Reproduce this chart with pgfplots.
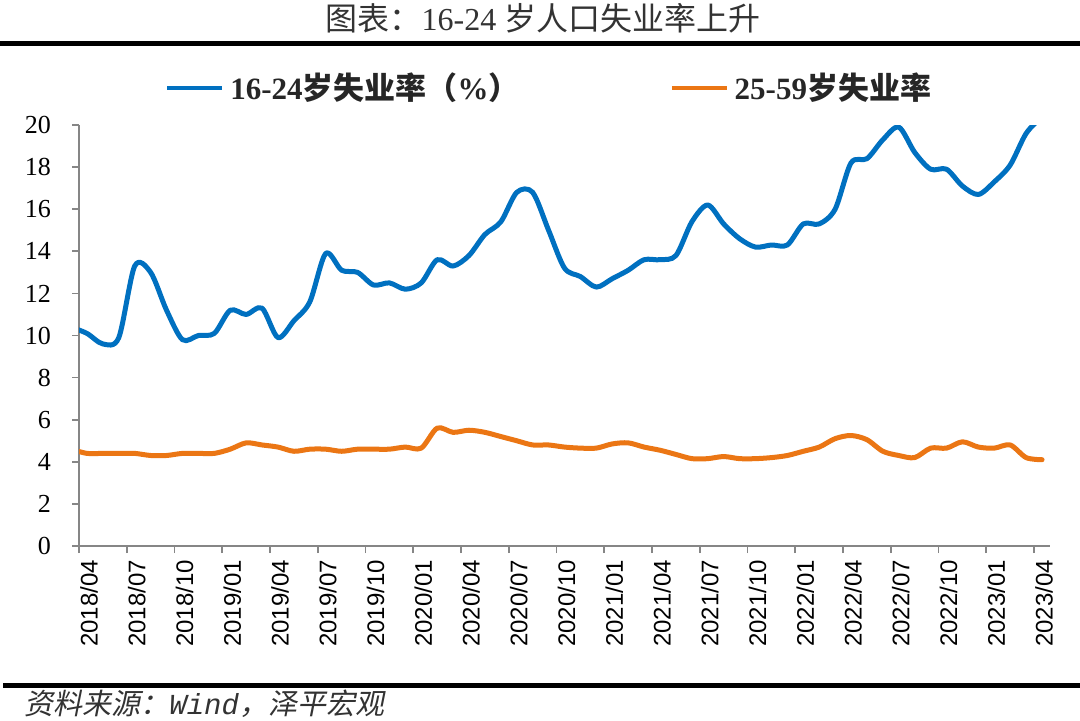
\documentclass[border=0pt]{standalone}
\usepackage{fontspec}
\setmainfont{Liberation Serif}
\setsansfont{Liberation Sans}
\setmonofont{Liberation Mono}
\newfontfamily\cjk{Noto Sans CJK SC}
\newfontfamily\cjkit{Noto Sans CJK SC}[FakeSlant=0.2]
\usepackage{pgfplots}
\pgfplotsset{compat=1.18}
\definecolor{bl}{RGB}{0,112,192}
\definecolor{orn}{RGB}{235,118,20}
\definecolor{axg}{RGB}{134,134,134}
\begin{document}
\begin{tikzpicture}
\path[use as bounding box] (0,0) rectangle (540pt,360pt);
\node[font=\fontsize{16}{18}\selectfont, text=black!80, inner sep=0pt] at (271.5pt,351pt) {{\cjk 图表：}16-24 {\cjk 岁人口失业率上升}};
\draw[line width=2.5pt] (0,338.25pt) -- (540pt,338.25pt);
\draw[line width=2.5pt] (1.5pt,17.5pt) -- (540pt,17.5pt);
\node[anchor=west, inner sep=0pt, font=\fontsize{14.5}{16}\selectfont, text=black!80] at (12pt,8pt) {{\cjkit 资料来源：}{\ttfamily\itshape Wind}{\cjkit ，泽平宏观}};
\begin{axis}[
  at={(39.5pt,87pt)}, anchor=south west,
  scale only axis, width=485.5pt, height=210.5pt,
  xmin=0, xmax=61, ymin=0, ymax=20,
  axis lines*=left,
  axis line style={axg, line width=0.85pt},
  tick align=outside, major tick length=3.5pt,
  tick style={axg, line width=0.85pt},
  ytick={0,2,...,20},
  /pgf/number format/assume math mode=true,
  yticklabel style={font=\fontsize{13}{14}\selectfont, text=black, xshift=-7pt},
  xtick={0.5,3.5,...,60.5},
  xticklabels={2018/04,2018/07,2018/10,2019/01,2019/04,2019/07,2019/10,2020/01,2020/04,2020/07,2020/10,2021/01,2021/04,2021/07,2021/10,2022/01,2022/04,2022/07,2022/10,2023/01,2023/04},
  xticklabel style={font=\sffamily\fontsize{12}{13}\selectfont, rotate=90, anchor=east, text=black, yshift=-1pt},
  xtick style={draw=none},
  extra x ticks={0,3,...,60},
  extra x tick labels={},
  extra x tick style={xtick style={draw=axg, line width=0.85pt}},
  legend columns=2,
  legend style={at={(0.0886,1.0879)}, anchor=west, draw=none, fill=none, inner sep=0pt,
    font=\fontsize{15.5}{17}\selectfont\bfseries, text=black!85,
    nodes={inner sep=0pt},
    /tikz/every odd column/.append style={column sep=3pt},
    /tikz/every even column/.append style={column sep=75pt}},
  legend image code/.code={\draw[#1, line width=2pt, line cap=butt] (0pt,0pt) -- (27.5pt,0pt);},
]
\addplot[bl, line width=2.5pt, smooth, line cap=round, line join=round] coordinates {
(-0.5,10.4) (0.5,10.1) (1.5,9.6) (2.5,9.9) (3.5,13.3) (4.5,13.0) (5.5,11.2) (6.5,9.8) (7.5,10.0) (8.5,10.1) (9.5,11.2) (10.5,11.0) (11.5,11.3) (12.5,9.9) (13.5,10.7) (14.5,11.6) (15.5,13.9) (16.5,13.1) (17.5,13.0) (18.5,12.4) (19.5,12.5) (20.5,12.2) (21.5,12.5) (22.5,13.6) (23.5,13.3) (24.5,13.8) (25.5,14.8) (26.5,15.4) (27.5,16.8) (28.5,16.8) (29.5,15.0) (30.5,13.2) (31.5,12.8) (32.5,12.3) (33.5,12.7) (34.5,13.1) (35.5,13.6) (36.5,13.6) (37.5,13.8) (38.5,15.4) (39.5,16.2) (40.5,15.3) (41.5,14.6) (42.5,14.2) (43.5,14.3) (44.5,14.3) (45.5,15.3) (46.5,15.3) (47.5,16.0) (48.5,18.2) (49.5,18.4) (50.5,19.3) (51.5,19.9) (52.5,18.7) (53.5,17.9) (54.5,17.9) (55.5,17.1) (56.5,16.7) (57.5,17.3) (58.5,18.1) (59.5,19.6) (60.5,20.4)
};
\addlegendentry{16-24{\cjk 岁失业率（}\%{\cjk ）}}
\addplot[orn, line width=2.5pt, smooth, line cap=round, line join=round] coordinates {
(-0.5,4.6) (0.5,4.4) (1.5,4.4) (2.5,4.4) (3.5,4.4) (4.5,4.3) (5.5,4.3) (6.5,4.4) (7.5,4.4) (8.5,4.4) (9.5,4.6) (10.5,4.9) (11.5,4.8) (12.5,4.7) (13.5,4.5) (14.5,4.6) (15.5,4.6) (16.5,4.5) (17.5,4.6) (18.5,4.6) (19.5,4.6) (20.5,4.7) (21.5,4.65) (22.5,5.6) (23.5,5.4) (24.5,5.5) (25.5,5.4) (26.5,5.2) (27.5,5.0) (28.5,4.8) (29.5,4.8) (30.5,4.7) (31.5,4.65) (32.5,4.65) (33.5,4.85) (34.5,4.9) (35.5,4.7) (36.5,4.55) (37.5,4.35) (38.5,4.15) (39.5,4.15) (40.5,4.25) (41.5,4.15) (42.5,4.15) (43.5,4.2) (44.5,4.3) (45.5,4.5) (46.5,4.7) (47.5,5.1) (48.5,5.25) (49.5,5.05) (50.5,4.5) (51.5,4.3) (52.5,4.2) (53.5,4.65) (54.5,4.65) (55.5,4.95) (56.5,4.7) (57.5,4.65) (58.5,4.8) (59.5,4.2) (60.5,4.1)
};
\addlegendentry{25-59{\cjk 岁失业率}}
\end{axis}
\end{tikzpicture}
\end{document}
